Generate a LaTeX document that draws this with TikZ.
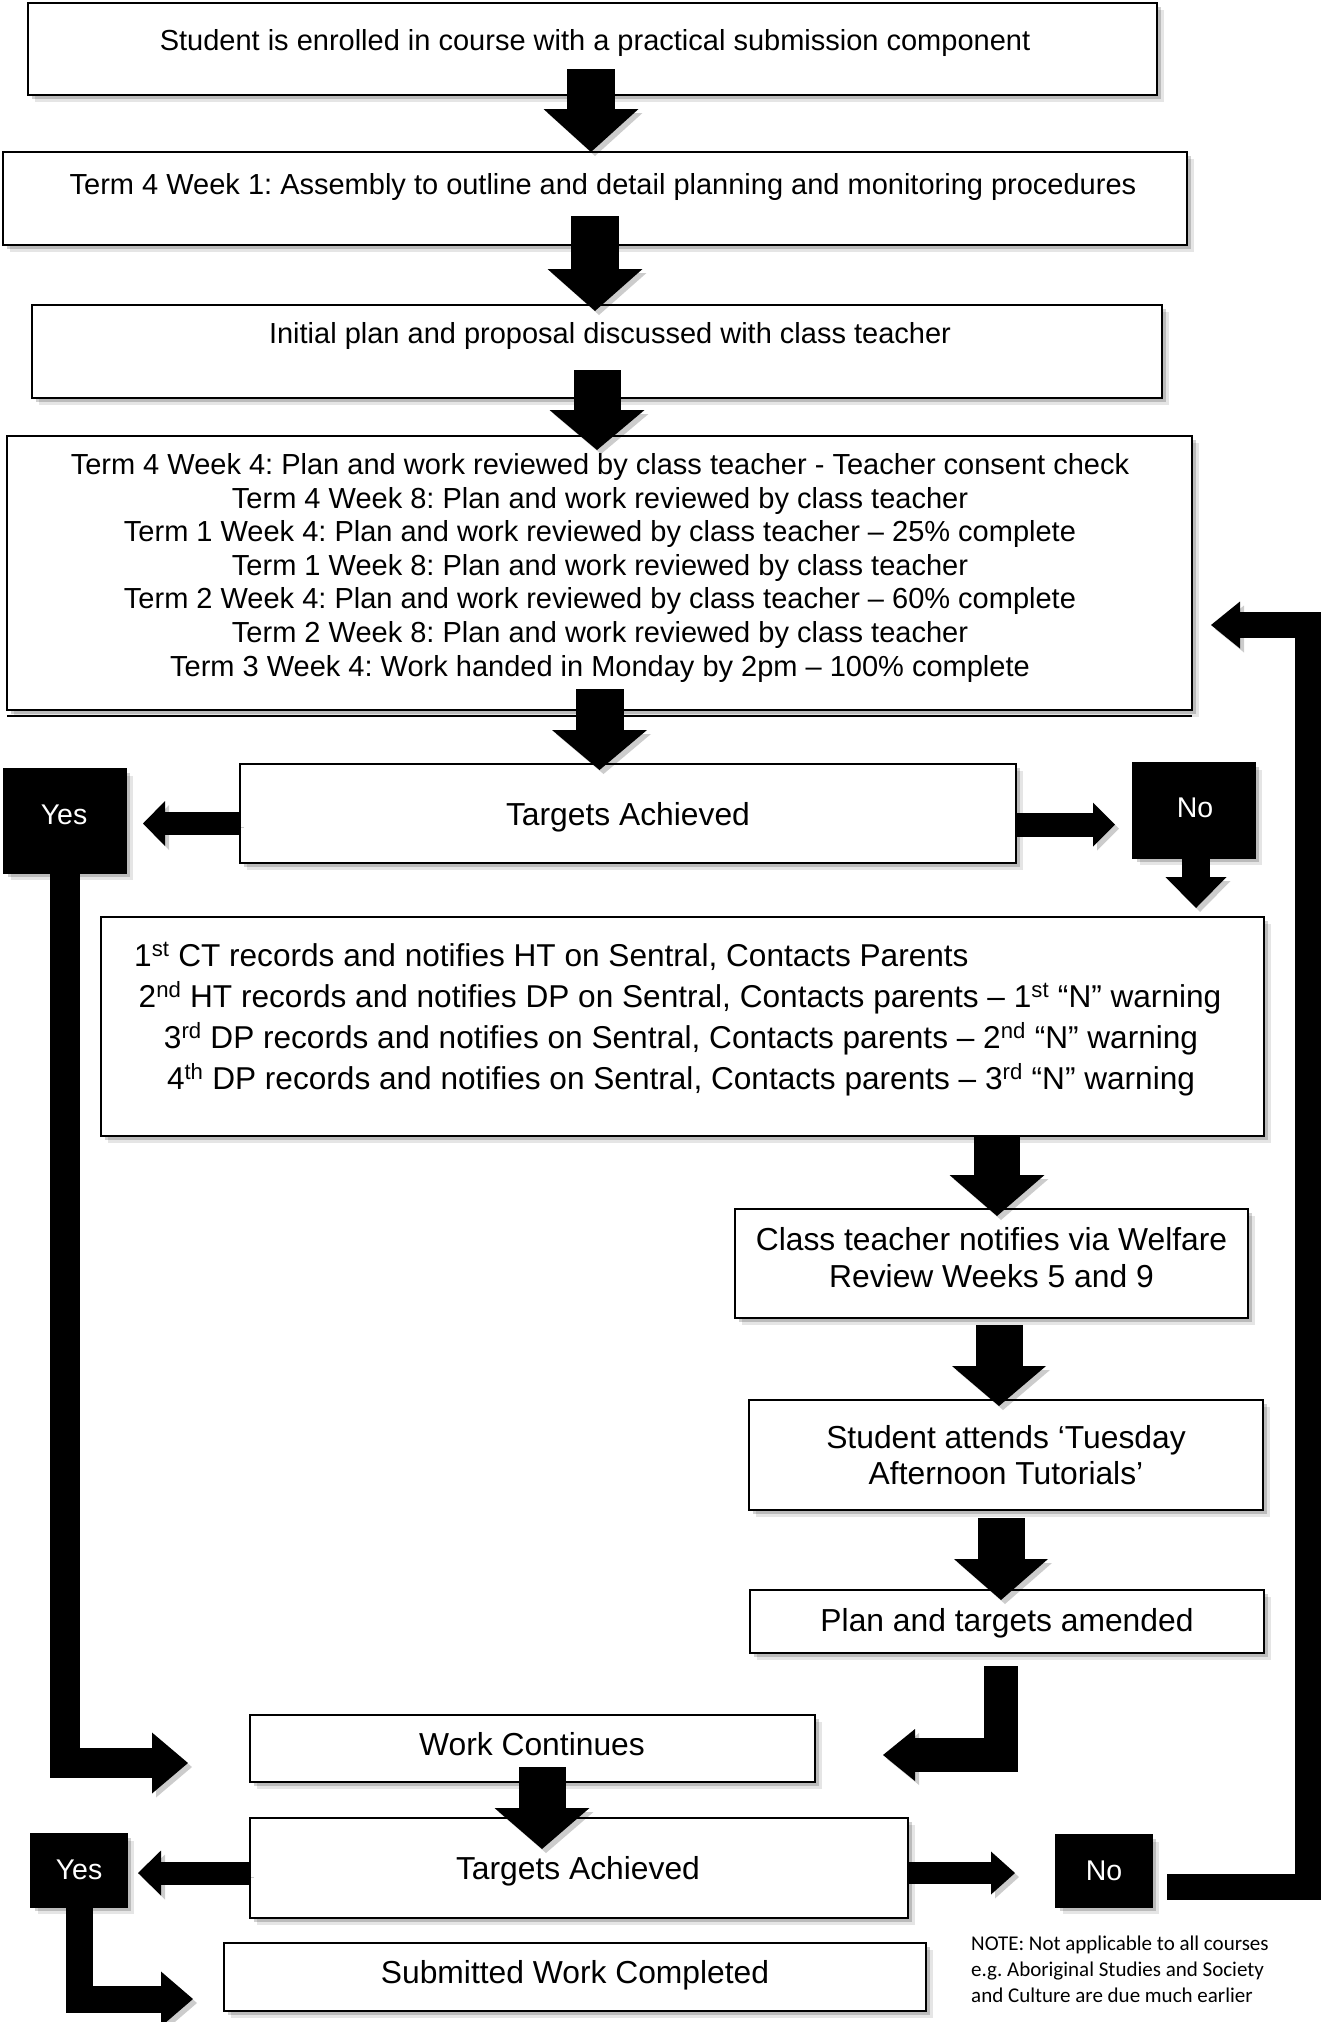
\documentclass[tikz,border=0pt]{standalone}
\usepackage{fontspec}
\setmainfont{Liberation Sans}
\newfontfamily\notefont{Carlito}
\usetikzlibrary{arrows.meta,shadows,calc}
\frenchspacing
\newcommand\fa{\fontsize{29}{34}\selectfont}
\newcommand\fb{\fontsize{31.8}{38}\selectfont}
\newcommand\fc{\fontsize{31.6}{41}\selectfont}
\newcommand\fy{\fontsize{28.5}{34}\selectfont}
\newcommand\fn{\fontsize{21}{26}\selectfont\notefont}
\newcommand\bx[6][box]{\node[#1, minimum width={#5-#3}, minimum height={#6-#4}] (#2) at (#3,#4) {};}
\begin{document}
\begin{tikzpicture}[x=1pt,y=-1pt,
  box/.style={draw=black, line width=1.6pt, fill=white, inner sep=0pt, outer sep=0pt, anchor=north west,
     drop shadow={shadow xshift=7pt, shadow yshift=-7pt, opacity=0.10, fill=black},
     drop shadow={shadow xshift=4pt, shadow yshift=-4pt, opacity=0.18, fill=black}},
  bbox/.style={box, fill=black},
  ta/.style={font=\fa, inner sep=0pt, anchor=base},
  tb/.style={font=\fb, inner sep=0pt, anchor=base},
  tc/.style={font=\fc, inner sep=0pt, anchor=base},
  ty/.style={font=\fy, inner sep=0pt, anchor=base, text=white},
  tn/.style={font=\fn, inner sep=0pt, anchor=base west},
  bar/.style n args={3}{line width=#1, line join=miter, line cap=butt,
     -{Triangle[width=#2, length=#3, line width=0pt]},
     preaction={draw=black, opacity=0.2, transform canvas={shift={(4pt,-4pt)}}}}
]
\useasboundingbox (0,0) rectangle (1328,2022);
\fill[white] (0,0) rectangle (1328,2022);

% boxes
\bx{b1}{28}{3}{1157}{95}
\bx{b2}{3}{152}{1187}{245}
\bx{b3}{32}{305}{1162}{398}
\bx{b4}{7}{436}{1192}{710}
\draw[line width=1.6pt] ([yshift=-6pt]b4.south west) -- ([yshift=-6pt]b4.south east);
\bx{T1}{240}{764}{1016}{863}
\bx[bbox]{Y1}{4}{769}{126}{873}
\bx[bbox]{N1}{1133}{763}{1255}{858}
\bx{b5}{101}{917}{1264}{1136}
\bx{cls}{735}{1209}{1248}{1318}
\bx{tue}{749}{1400}{1263}{1510}
\bx{pln}{750}{1590}{1264}{1653}
\bx{W}{250}{1715}{815}{1782}
\bx{T2}{250}{1818}{908}{1918}
\bx[bbox]{Y2}{31}{1834}{127}{1907}
\bx[bbox]{N2}{1056}{1835}{1152}{1907}
\bx{S}{224}{1943}{926}{2011}

% down arrows
\draw[bar={48pt}{95pt}{43pt}] ([xshift=-1.5pt,yshift=26pt]b1.south) -- ([xshift=-1.5pt]b1.south |- b2.north);
\draw[bar={48pt}{95pt}{42pt}] ([yshift=29pt]b2.south) -- ([yshift=-6pt]b2.south |- b3.north);
\draw[bar={47pt}{95pt}{40pt}] ([yshift=28pt]b3.south) -- ([yshift=-14pt]b3.south |- b4.north);
\draw[bar={48pt}{95pt}{40pt}] ([yshift=21pt]b4.south) -- ([yshift=-6pt]b4.south |- T1.north);
\draw[bar={46pt}{95pt}{41pt}] ([xshift=5.5pt]cls.north |- b5.south) -- ([xshift=5.5pt,yshift=-7pt]cls.north);
\draw[bar={47pt}{94pt}{40pt}] ([xshift=7.5pt,yshift=-7pt]cls.south) -- ([xshift=-7pt,yshift=-6pt]tue.north);
\draw[bar={47pt}{94pt}{41pt}] ([xshift=-5pt,yshift=-8pt]tue.south) -- ([xshift=-6pt,yshift=-10pt]pln.north);
\draw[bar={47pt}{95pt}{41pt}] ([xshift=9.5pt,yshift=15pt]W.south) -- ([xshift=-37pt,yshift=-31pt]T2.north);

% side arrows
\draw[bar={23pt}{45pt}{22pt}] ([yshift=-10pt]T1.west) -- ++(-97,0);
\draw[bar={24pt}{44pt}{22pt}] ([yshift=-11pt]T1.east) -- ++(99,0);
\draw[bar={28pt}{61pt}{31pt}] ([xshift=2pt]N1.south) -- ++(0,50);
\draw[bar={23pt}{45pt}{23pt}] ([yshift=-5pt]T2.west) -- ++(-112,0);
\draw[bar={22pt}{43pt}{24pt}] ([yshift=-5pt]T2.east) -- ++(107,0);

% elbow arrows
\draw[bar={30pt}{61pt}{36pt}] (Y1.south) |- ([xshift=-62pt,yshift=-14.5pt]W.west);
\draw[bar={27pt}{55pt}{32pt}] (Y2.south) |- ([xshift=-31pt,yshift=-22pt]S.west);
\draw[bar={34pt}{52pt}{32pt}] ([xshift=-6pt,yshift=-13pt]pln.south) |- ([xshift=68pt,yshift=-6.5pt]W.east);
\draw[bar={26pt}{47pt}{29pt}] ([xshift=15pt,yshift=-16pt]N2.east) -- ++(141,0) |- ([xshift=19pt,yshift=-52pt]b4.east);

% texts
\node[ta] (t1) at (595,50) {Student is enrolled in course with a practical submission component};
\node[ta] (t2) at (603,194) {Term 4 Week 1: Assembly to outline and detail planning and monitoring procedures};
\node[ta] (t3) at (610,343) {Initial plan and proposal discussed with class teacher};
\node[ta] (t4a) at (600,474) {Term 4 Week 4: Plan and work reviewed by class teacher - Teacher consent check};
\node[ta] (t4b) at (600,508) {Term 4 Week 8: Plan and work reviewed by class teacher};
\node[ta] (t4c) at (600,541) {Term 1 Week 4: Plan and work reviewed by class teacher – 25\% complete};
\node[ta] (t4d) at (600,575) {Term 1 Week 8: Plan and work reviewed by class teacher};
\node[ta] (t4e) at (600,608) {Term 2 Week 4: Plan and work reviewed by class teacher – 60\% complete};
\node[ta] (t4f) at (600,642) {Term 2 Week 8: Plan and work reviewed by class teacher};
\node[ta] (t4g) at (600,676) {Term 3 Week 4: Work handed in Monday by 2pm – 100\% complete};
\node[tb] (tT1) at (628,825) {Targets Achieved};
\node[ty] (tY1) at (64,824) {Yes};
\node[ty] (tN1) at (1195,817) {No};
\node[tc, anchor=base west] (t5a) at (134,966) {1\textsuperscript{st} CT records and notifies HT on Sentral, Contacts Parents};
\node[tc] (t5b) at (680,1007) {2\textsuperscript{nd} HT records and notifies DP on Sentral, Contacts parents – 1\textsuperscript{st} “N” warning};
\node[tc] (t5c) at (681,1048) {3\textsuperscript{rd} DP records and notifies on Sentral, Contacts parents – 2\textsuperscript{nd} “N” warning};
\node[tc] (t5d) at (681,1089) {4\textsuperscript{th} DP records and notifies on Sentral, Contacts parents – 3\textsuperscript{rd} “N” warning};
\node[tb] (tc1) at (991.5,1250) {Class teacher notifies via Welfare};
\node[tb] (tc2) at (991.5,1287) {Review Weeks 5 and 9};
\node[tb] (tu1) at (1006,1448) {Student attends ‘Tuesday};
\node[tb] (tu2) at (1006,1484) {Afternoon Tutorials’};
\node[tb] (tp) at (1007,1631) {Plan and targets amended};
\node[tb] (tw) at (532,1755) {Work Continues};
\node[tb] (tT2) at (578,1879) {Targets Achieved};
\node[ty] (tY2) at (79,1879) {Yes};
\node[ty] (tN2) at (1104,1880) {No};
\node[tb] (ts) at (575,1983) {Submitted Work Completed};
\node[tn] (n1) at (971,1950) {NOTE: Not applicable to all courses};
\node[tn] (n2) at (971,1976) {e.g. Aboriginal Studies and Society};
\node[tn] (n3) at (971,2002) {and Culture are due much earlier};
\end{tikzpicture}
\end{document}
